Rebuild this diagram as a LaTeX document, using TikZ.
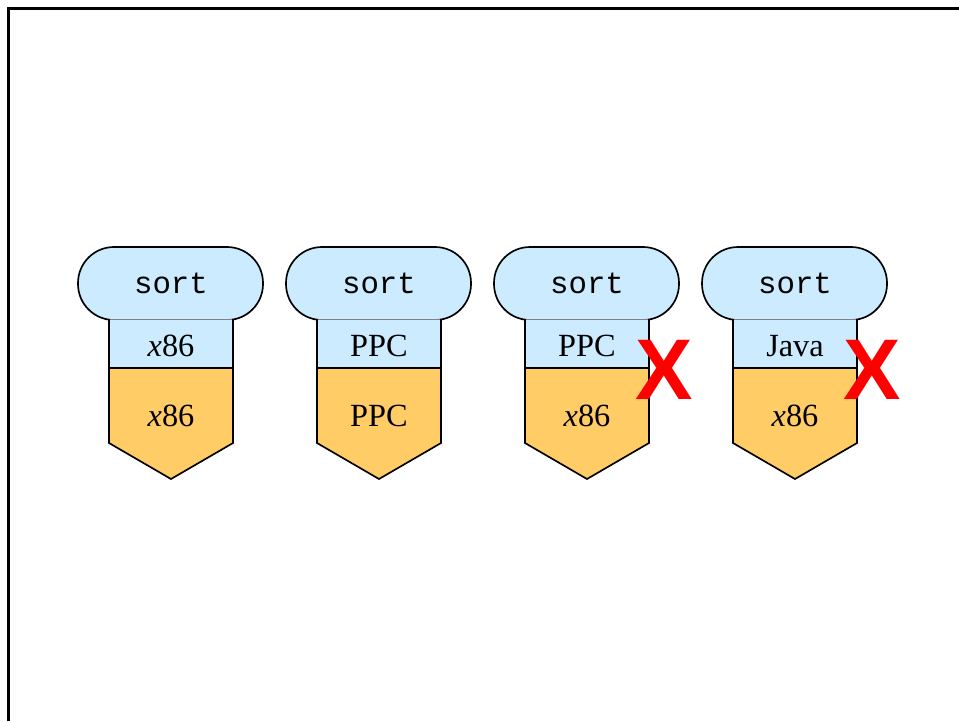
\documentclass[tikz,border=0pt]{standalone}
\usepackage{fontspec}
\setmainfont{Liberation Serif}
\setmonofont{Liberation Mono}
\newfontfamily\xfont{Liberation Sans}
\definecolor{lblue}{RGB}{204,235,255}
\definecolor{lorange}{RGB}{255,204,102}
\definecolor{xred}{RGB}{255,0,0}
\tikzset{
  edge/.style={draw=black, line width=0.95pt, line join=miter},
  toplabel/.style={font=\ttfamily\fontsize{17.5}{20}\selectfont, inner sep=0pt},
  archlabel/.style={font=\fontsize{18.4}{21}\selectfont, inner sep=0pt},
  redx/.style={font=\xfont\bfseries\fontsize{49}{52}\selectfont, text=xred, inner sep=0pt},
}
\newcommand\drawstack[4]{%
  \begin{scope}[shift={(#1,0)}]
    \draw[edge, fill=lblue, rounded corners=0.72cm] (-93,247) rectangle (92,320);
    \fill[lblue] (-62,319) rectangle (62,368);
    \draw[gray, line width=0.3pt] (-62,319) -- (62,319);
    \draw[edge] (-62,319) -- (-62,368);
    \draw[edge] (62,319) -- (62,368);
    \draw[edge, fill=lorange] (-62,368) -- (62,368) -- (62,443) -- (0,479) -- (-62,443) -- cycle;
    \node[toplabel] (sort#2) at (0,283) {sort};
    \node[archlabel] (mid#2) at (0,346) {#3};
    \node[archlabel] (low#2) at (0,416) {#4};
  \end{scope}}
\begin{document}
\begin{tikzpicture}[x=0.02cm, y=-0.02cm]
  \useasboundingbox (0,0) rectangle (959,721);
  \draw[line width=1.4pt] (8.5,721) -- (8.5,8.5) -- (959,8.5);
  \drawstack{171}{a}{\textit{x}86}{\textit{x}86}
  \drawstack{379}{b}{PPC}{PPC}
  \drawstack{587}{c}{PPC}{\textit{x}86}
  \drawstack{795}{d}{Java}{\textit{x}86}
  \node[redx] (xc) at (664,370) {X};
  \node[redx] (xd) at (872,370) {X};
\end{tikzpicture}
\end{document}
